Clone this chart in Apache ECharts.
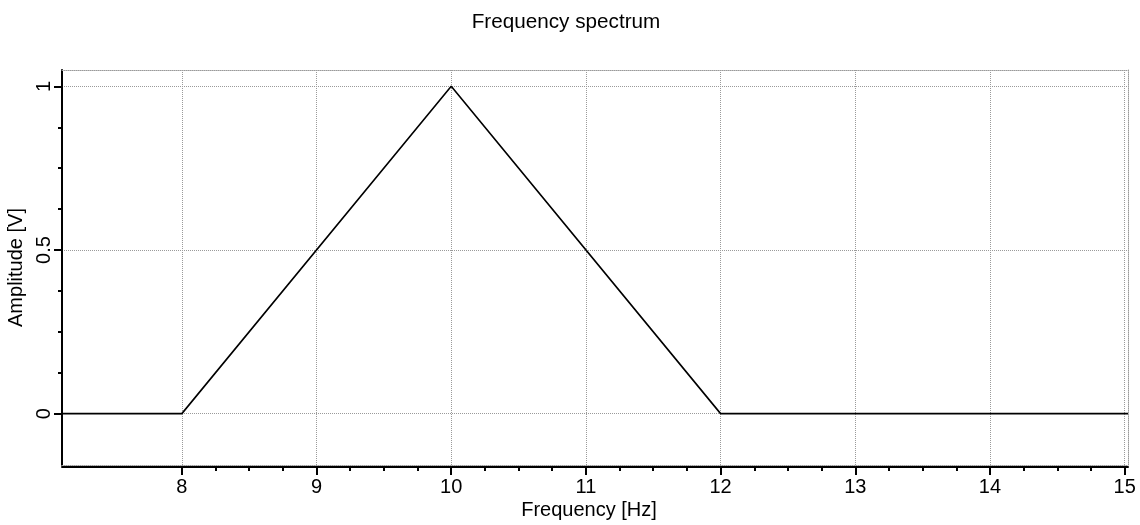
<!DOCTYPE html>
<html>
<head>
<meta charset="utf-8">
<title>Frequency spectrum</title>
<script src="https://cdn.jsdelivr.net/npm/echarts@6/dist/echarts.min.js"></script>
<style>
  html, body { margin: 0; padding: 0; background: #ffffff; }
  #chart { width: 1140px; height: 525px; }
</style>
</head>
<body>
<div id="chart"></div>
<script>
// Triangular amplitude spectrum
const freq = [7.11, 8, 10, 12, 15.025];
const amplitude = [0, 0, 1, 0, 0];

// Axis limits and tick labels
const xRange = [7.11, 15.025];
const yRange = [-0.157, 1.05];
const xTicks = [8, 9, 10, 11, 12, 13, 14, 15];
const yTicks = [0, 0.5, 1];
const xMinorPerMajor = 4;
const yMinorPerMajor = 4;

function minorValues(major, parts) {
  const out = [];
  for (let i = 0; i < major.length - 1; i++) {
    const step = (major[i + 1] - major[i]) / parts;
    for (let k = 1; k < parts; k++) out.push(+(major[i] + k * step).toFixed(6));
  }
  return out;
}
const xMinor = minorValues(xTicks, xMinorPerMajor);
const yMinor = minorValues(yTicks, yMinorPerMajor);

const FONT = 'Liberation Sans, Arial, Helvetica, sans-serif';
const GRID_GRAY = '#9a9a9a';
const gridLine = { show: true, lineStyle: { color: GRID_GRAY, width: 1, type: 'dotted' } };
const noLine = { show: false, onZero: false };
const dottedBorder = { show: true, onZero: false, lineStyle: { color: GRID_GRAY, width: 1, type: 'dotted' } };
const hidden = { show: false };

const chart = echarts.init(document.getElementById('chart'), null, { renderer: 'canvas' });
chart.setOption({
  animation: false,
  backgroundColor: '#ffffff',
  textStyle: { fontFamily: FONT, color: '#000' },
  title: {
    text: 'Frequency spectrum',
    left: 566, top: 12, padding: 0,
    textAlign: 'center',
    textStyle: { fontFamily: FONT, fontSize: 20.7, fontWeight: 'normal', color: '#000' }
  },
  grid: { left: 62, right: 12, top: 70, bottom: 60, containLabel: false, outerBoundsMode: 'none' },
  xAxis: [
    {
      // main frequency axis: black line, major ticks, labels
      type: 'value', min: xRange[0], max: xRange[1], position: 'bottom', offset: 2,
      name: 'Frequency [Hz]', nameLocation: 'middle', nameGap: 33, nameMoveOverlap: false,
      nameTextStyle: { fontFamily: FONT, fontSize: 20, color: '#000', padding: [0, 12, 0, 0] },
      axisLine: { show: true, onZero: false, lineStyle: { color: '#000', width: 2 } },
      axisTick: { show: true, inside: false, length: 8, customValues: xTicks, lineStyle: { color: '#000', width: 2 } },
      axisLabel: { show: true, customValues: xTicks, margin: 10, fontFamily: FONT, fontSize: 20, color: '#000' },
      splitLine: hidden
    },
    {
      // minor ticks between the major ones
      type: 'value', min: xRange[0], max: xRange[1], position: 'bottom', offset: 2,
      axisLine: noLine,
      axisTick: { show: true, inside: false, length: 4, customValues: xMinor, lineStyle: { color: '#000', width: 2 } },
      axisLabel: hidden, splitLine: hidden
    },
    {
      // vertical dotted grid at the major ticks
      type: 'value', min: xRange[0], max: xRange[1], position: 'bottom',
      axisLine: noLine, axisLabel: hidden,
      axisTick: { show: false, customValues: xTicks },
      splitLine: gridLine
    },
    {
      type: 'value', min: xRange[0], max: xRange[1], position: 'top',
      axisLine: dottedBorder, axisTick: hidden, axisLabel: hidden, splitLine: hidden
    },
    {
      type: 'value', min: xRange[0], max: xRange[1], position: 'bottom',
      axisLine: dottedBorder, axisTick: hidden, axisLabel: hidden, splitLine: hidden
    }
  ],
  yAxis: [
    {
      type: 'value', min: yRange[0], max: yRange[1], position: 'left',
      name: 'Amplitude [V]', nameLocation: 'middle', nameGap: 36, nameMoveOverlap: false,
      nameTextStyle: { fontFamily: FONT, fontSize: 20, color: '#000' },
      axisLine: { show: true, onZero: false, lineStyle: { color: '#000', width: 2 } },
      axisTick: { show: true, inside: false, length: 8, customValues: yTicks, lineStyle: { color: '#000', width: 2 } },
      axisLabel: { show: true, customValues: yTicks, rotate: 90, margin: 8, fontFamily: FONT, fontSize: 20, color: '#000' },
      splitLine: gridLine
    },
    {
      type: 'value', min: yRange[0], max: yRange[1], position: 'left',
      axisLine: noLine,
      axisTick: { show: true, inside: false, length: 4, customValues: yMinor, lineStyle: { color: '#000', width: 2 } },
      axisLabel: hidden, splitLine: hidden
    },
    {
      type: 'value', min: yRange[0], max: yRange[1], position: 'right',
      axisLine: dottedBorder, axisTick: hidden, axisLabel: hidden, splitLine: hidden
    }
  ],
  series: [
    {
      type: 'line',
      xAxisIndex: 0, yAxisIndex: 0,
      data: freq.map((f, i) => [f, amplitude[i]]),
      showSymbol: false, symbol: 'none',
      clip: true,
      lineStyle: { color: '#000', width: 1.6 },
      z: 5
    }
  ]
});
</script>
</body>
</html>
